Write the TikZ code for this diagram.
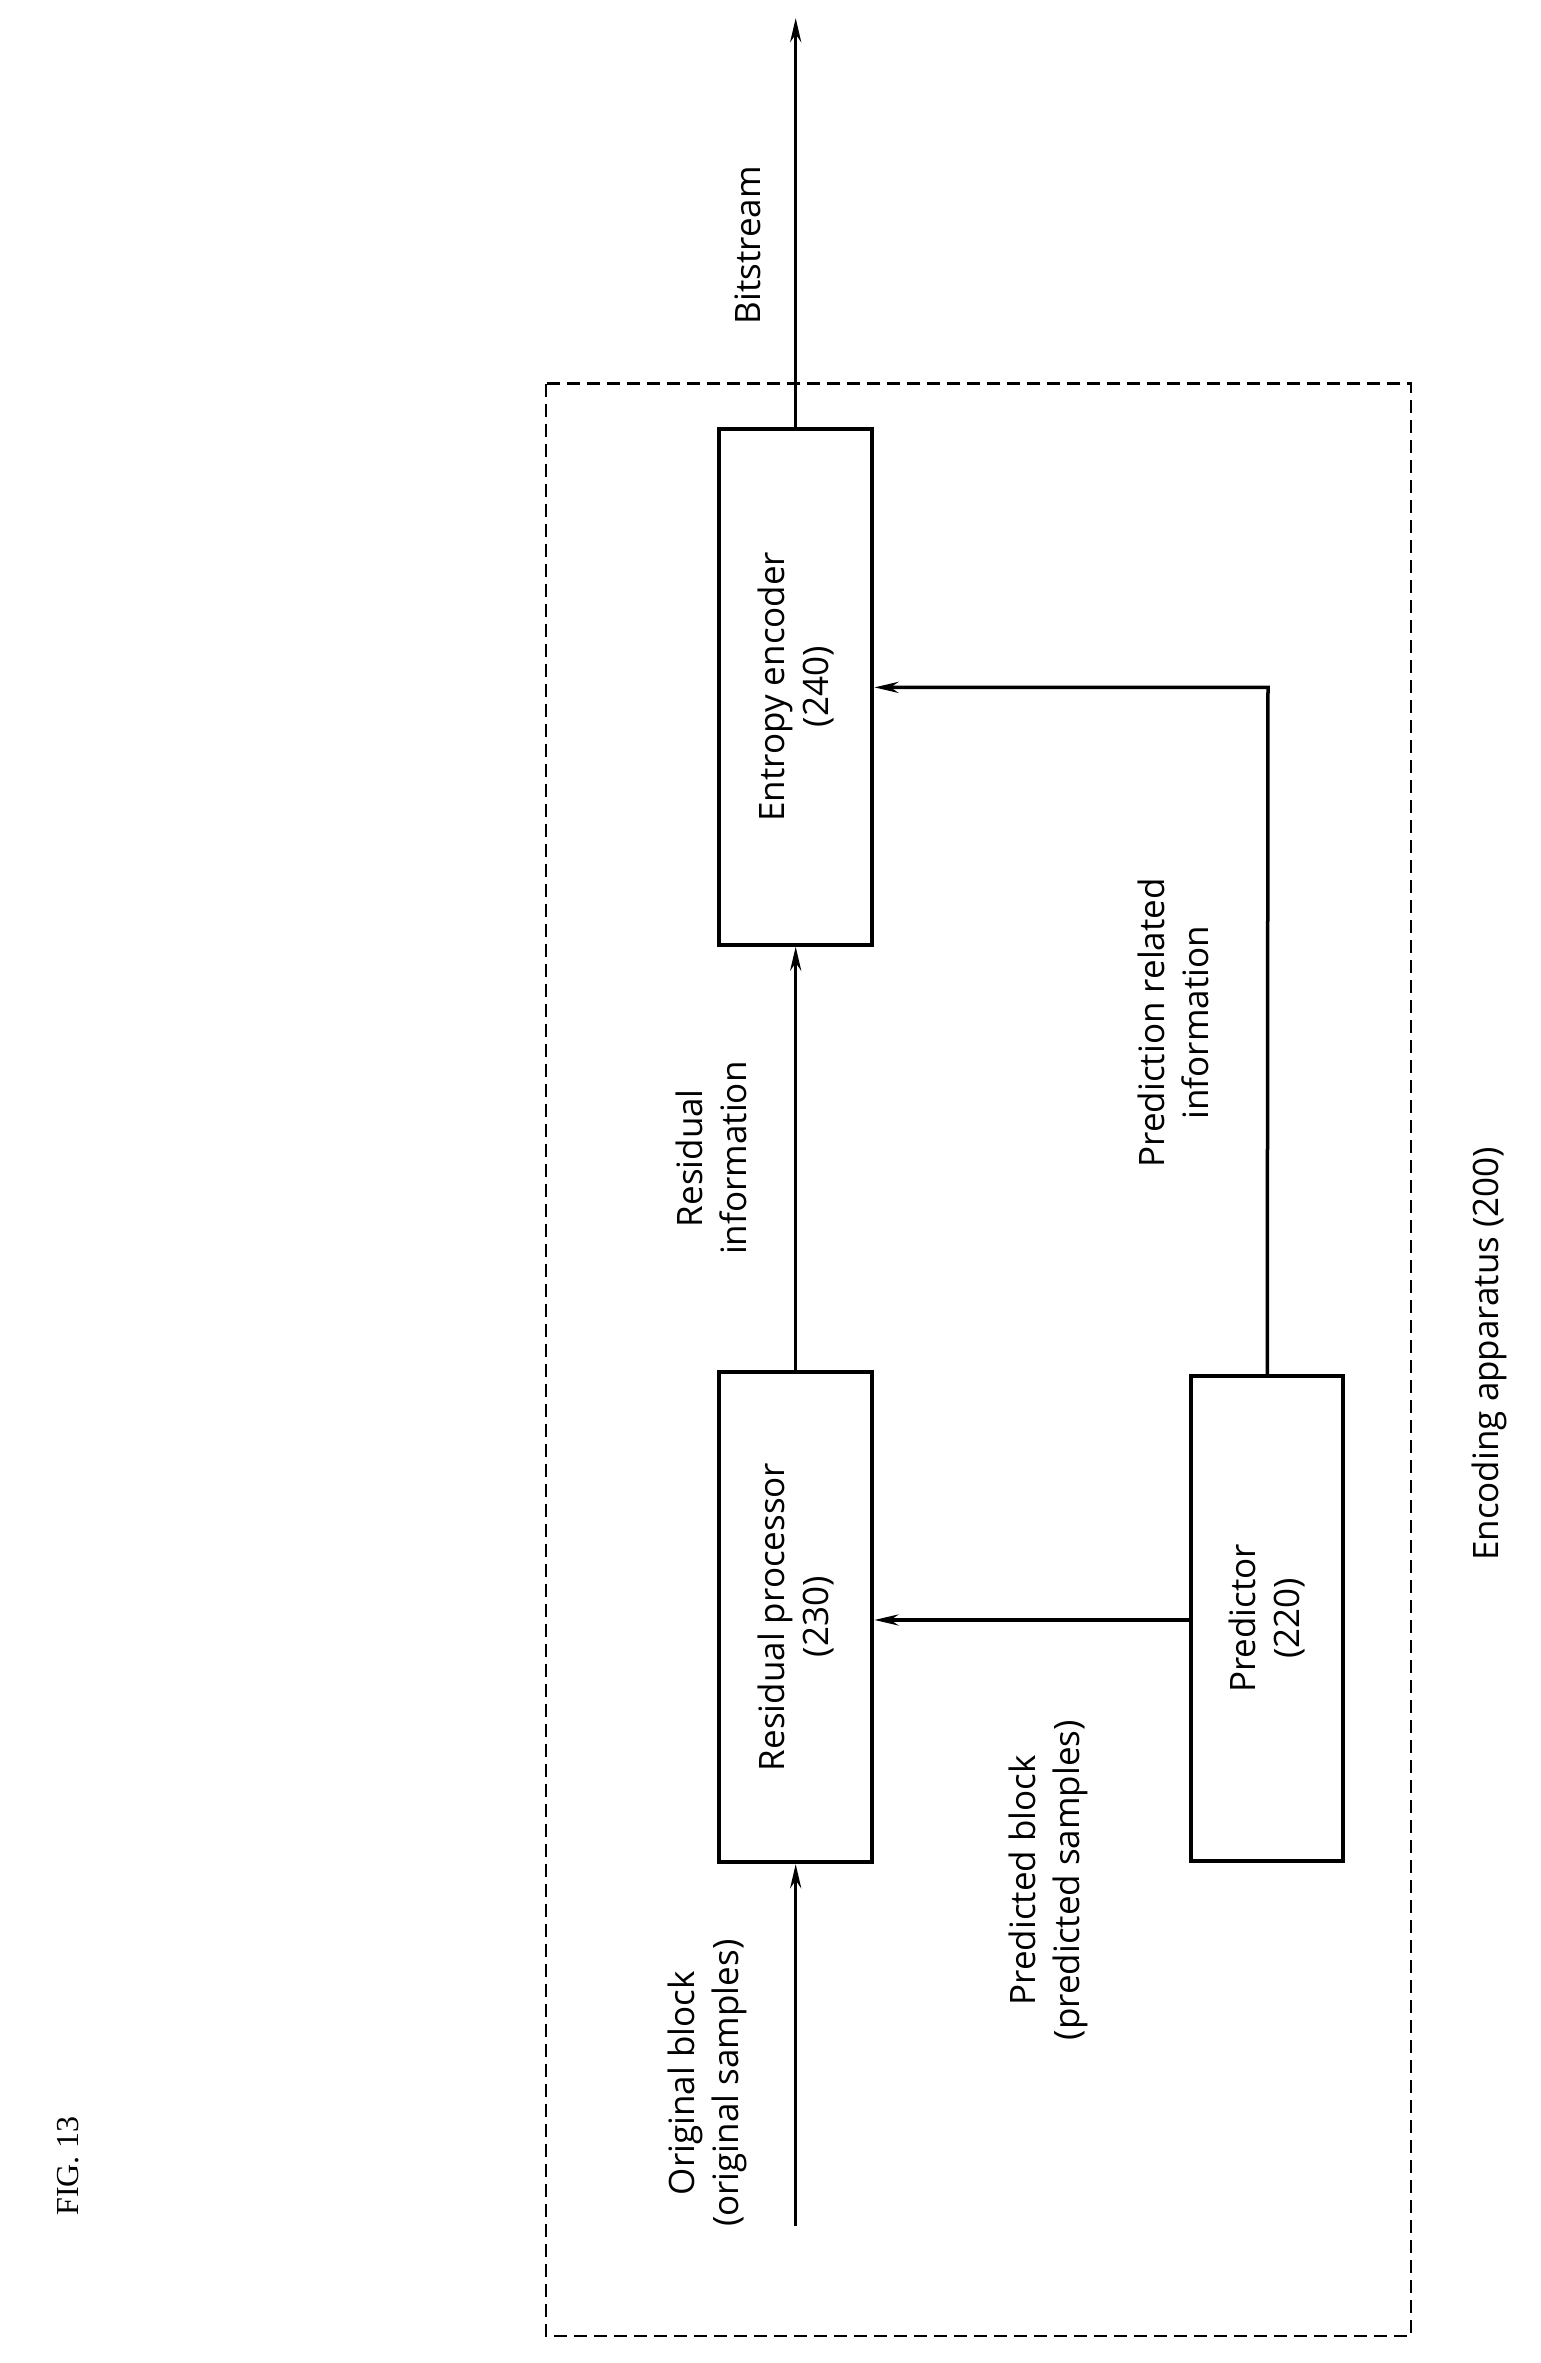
\documentclass[tikz,border=0pt]{standalone}
\usepackage{fontspec}
\setmainfont{Liberation Serif}
\newfontfamily\lab{Open Sans}
\usetikzlibrary{arrows.meta}
\begin{document}
\begin{tikzpicture}[x=1.504pt,y=-1.504pt,
  box/.style={draw,line width=4pt,inner sep=0},
  lbl/.style={font=\lab\fontsize{35}{44}\selectfont,rotate=90,align=center},
  arr/.style={line width=3.5pt,-{Stealth[length=24pt,width=11pt]}}]
\useasboundingbox (0,0) rectangle (1024,1571);
\draw[line width=2.2pt,dash pattern=on 13pt off 7pt] (363,255) rectangle (938,1553);
\node[box,minimum width=102*1.504pt,minimum height=343*1.504pt] (ent) at (529,456.5) {};
\node[lbl] at (ent) {Entropy encoder\\(240)};
\node[box,minimum width=102*1.504pt,minimum height=326*1.504pt] (res) at (529,1075) {};
\node[lbl] at (res) {Residual processor\\(230)};
\node[box,minimum width=101*1.504pt,minimum height=322*1.504pt] (pre) at (842.5,1076) {};
\node[lbl] at (pre) {Predictor\\(220)};
\coordinate (top) at (529,12);
\coordinate (orig) at (529,1480);
\coordinate (corner) at (843,457);
\draw[arr] (ent.north) -- (top);
\draw[arr] (res.north) -- (ent.south);
\draw[arr] (orig) -- (res.south);
\draw[arr] (pre.north) -- (corner) -- (ent.east |- corner);
\draw[arr] (pre.west |- 0,1077) -- (res.east |- 0,1077);
\node[lbl] (bs) at (497,163) {Bitstream};
\node[lbl] (ri) at (473,770) {Residual\\information};
\node[lbl] (pri) at (780,680) {Prediction related\\information};
\node[lbl] (pb) at (697,1250) {Predicted block\\(predicted samples)};
\node[lbl] (ob) at (470,1385) {Original block\\(original samples)};
\node[lbl] (ea) at (990,900) {Encoding apparatus (200)};
\node[rotate=90,font=\fontsize{32}{38}\selectfont] (fig) at (45,1440) {FIG. 13};
\end{tikzpicture}
\end{document}
